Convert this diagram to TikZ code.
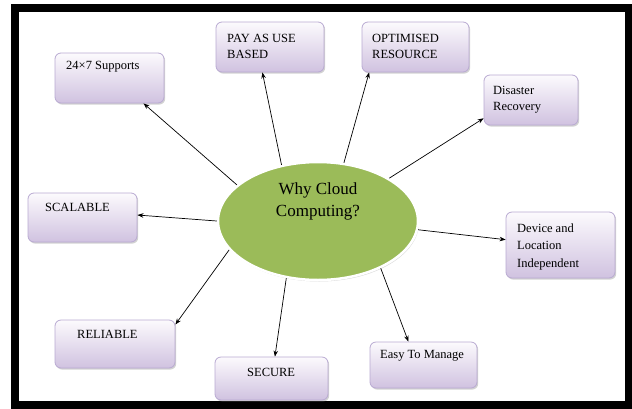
\documentclass[tikz,border=0pt]{standalone}
\usepackage{fontspec}
\setmainfont{Liberation Serif}
\usetikzlibrary{shapes.geometric,shadows,arrows.meta,calc}
\definecolor{boxborder}{RGB}{185,170,210}
\definecolor{boxtop}{RGB}{252,250,253}
\definecolor{boxbot}{RGB}{208,194,224}
\definecolor{olive}{RGB}{155,187,89}
\tikzset{
  card/.style={draw=boxborder, line width=0.8pt, rounded corners=6pt,
    top color=boxtop, bottom color=boxbot,
    drop shadow={opacity=0.35, shadow xshift=1.2pt, shadow yshift=-1.6pt},
    inner sep=0pt},
  lbl/.style={font=\fontsize{12.5}{15.5}\selectfont, anchor=west, align=left, inner sep=0pt},
  arr/.style={-{Stealth[length=6pt,width=4.5pt]}, line width=0.7pt, black},
}
\begin{document}
\begin{tikzpicture}[x=1pt,y=-1pt]
\useasboundingbox (0,0) rectangle (632,408);
\fill[white] (0,0) rectangle (632,408);
% frame
\draw[line width=7.5pt, black] (15,8) rectangle (628.5,405);
% centre ellipse
\node[ellipse, draw=white, line width=2.5pt, fill=olive,
  drop shadow={opacity=0.3, shadow xshift=1pt, shadow yshift=-1.5pt},
  minimum width=200pt, minimum height=118pt, inner sep=0pt] (c) at (318,221) {};
\node[font=\fontsize{17}{22}\selectfont, align=center, inner sep=0pt] (ct) at (318,201) {Why Cloud\\Computing?};
% boxes
\node[card, minimum width=109pt, minimum height=50pt] (b1) at (109.5,78) {};
\node[card, minimum width=108pt, minimum height=50pt] (b2) at (270,47) {};
\node[card, minimum width=107pt, minimum height=50pt] (b3) at (415.5,47) {};
\node[card, minimum width=94pt, minimum height=50pt] (b4) at (531,100) {};
\node[card, minimum width=109pt, minimum height=49pt] (b5) at (82.5,217.5) {};
\node[card, minimum width=109pt, minimum height=66pt] (b6) at (560.5,245) {};
\node[card, minimum width=120pt, minimum height=48pt] (b7) at (115,344) {};
\node[card, minimum width=113pt, minimum height=43pt] (b8) at (271.5,378.5) {};
\node[card, minimum width=107pt, minimum height=46pt] (b9) at (423.5,365) {};
% labels
\node[lbl] (t1) at (66,67) {24×7 Supports};
\node[lbl] (t2) at (227,46.5) {PAY AS USE\\BASED};
\node[lbl] (t3) at (372,46.5) {OPTIMISED\\RESOURCE};
\node[lbl, font=\fontsize{12.5}{16}\selectfont] (t4) at (493,100) {Disaster\\Recovery};
\node[lbl] (t5) at (45,207) {SCALABLE};
\node[lbl, font=\fontsize{12.5}{17.5}\selectfont] (t6) at (517,246.5) {Device and\\Location\\Independent};
\node[lbl] (t7) at (77,334) {RELIABLE};
\node[lbl] (t8) at (247,372) {SECURE};
\node[lbl] (t9) at (380,356) {Easy To Manage};
% connectors
\draw[arr] (c.156.6) -- ($(b1.south west)!0.81!(b1.south east)$);
\draw[arr] (c.123.2) -- ($(b2.south west)!0.43!(b2.south east)$);
\draw[arr] (c.66.7) -- ($(b3.south west)!0.07!(b3.south east)$);
\draw[arr] (c.31) -- ($(b4.north west)!0.86!(b4.south west)$);
\draw[arr] (c.180) -- ($(b5.north east)!0.45!(b5.south east)$);
\draw[arr] (c.-5.3) -- ($(b6.north west)!0.42!(b6.south west)$);
\draw[arr] (c.198) -- ($(b7.north east)!0.1!(b7.south east)$);
\draw[arr] (c.241) -- ($(b8.north west)!0.53!(b8.north east)$);
\draw[arr] (c.-37) -- ($(b9.north west)!0.36!(b9.north east)$);
\end{tikzpicture}
\end{document}
